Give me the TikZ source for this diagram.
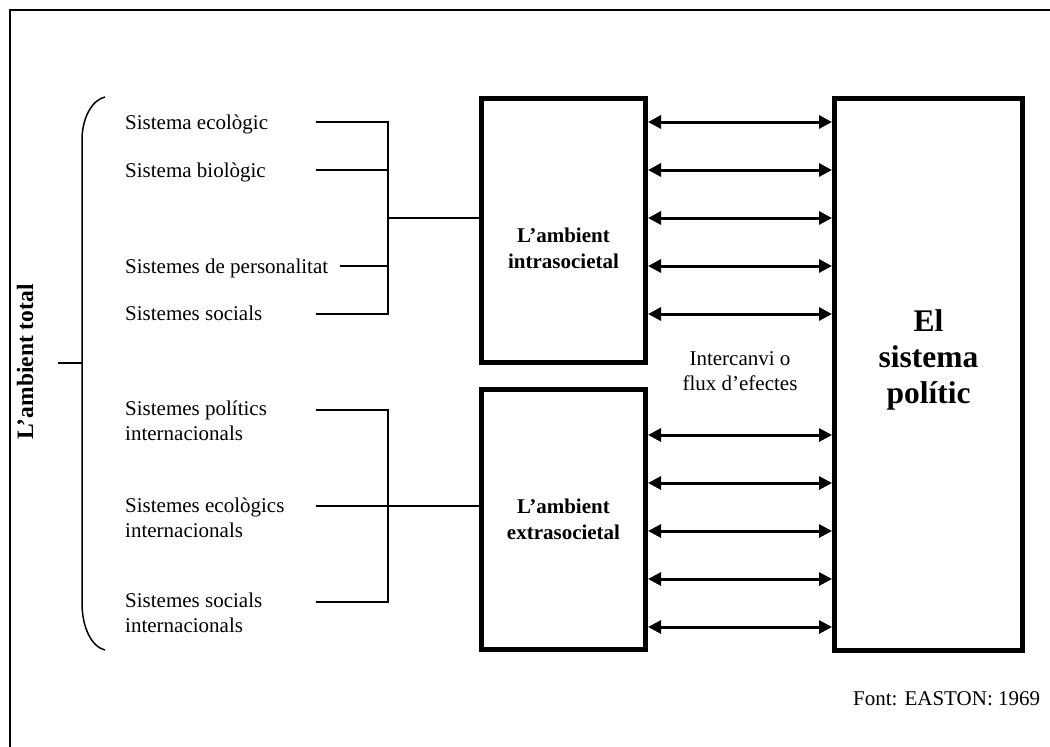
\documentclass[tikz,border=0pt]{standalone}
\usepackage{fontspec}
\setmainfont{Liberation Serif}
\usetikzlibrary{arrows.meta}
\begin{document}
\begin{tikzpicture}[x=1pt,y=-1pt,
  txt/.style={font=\fontsize{21}{25}\selectfont, inner sep=0pt, align=left, anchor=base west},
  boxlbl/.style={font=\fontsize{21}{26}\selectfont\bfseries, inner sep=0pt, align=center},
  bigbox/.style={draw, line width=5pt, inner sep=0pt},
  thinline/.style={line width=1.5pt},
  flux/.style={line width=3pt, {Triangle[length=13pt,width=13pt]}-{Triangle[length=13pt,width=13pt]}}]
\useasboundingbox (0,0) rectangle (1050,747);
% outer frame
\draw[line width=2pt] (10,760) -- (10,10) -- (1060,10);

% big boxes
\node[bigbox, minimum width=164pt, minimum height=263.5pt] (intra) at (563.5,230.25) {};
\node[bigbox, minimum width=164pt, minimum height=260pt] (extra) at (563.5,519.5) {};
\node[bigbox, minimum width=188pt, minimum height=551.5pt] (pol) at (928.5,374.25) {};

\node[boxlbl] (intraL) at (563.5,248) {L’ambient\\intrasocietal};
\node[boxlbl] (extraL) at (563.5,519.5) {L’ambient\\extrasocietal};
\node[boxlbl, font=\fontsize{31.5}{36}\selectfont\bfseries] (polL) at (928.5,360) {El\\sistema\\polític};

% exchange label
\node[txt, anchor=center, align=center] (flux) at (740,371) {Intercanvi o\\flux d’efectes};

% exchange arrows
\foreach \y in {122,170,218,266,314} {
  \draw[flux] (intra.east |- 0,\y) -- (pol.west |- 0,\y);
}
\foreach \y in {435,483,531,579,627} {
  \draw[flux] (extra.east |- 0,\y) -- (pol.west |- 0,\y);
}

% items
\node[txt] (i1) at (125,129) {Sistema ecològic};
\node[txt] (i2) at (125,177) {Sistema biològic};
\node[txt] (i3) at (125,273) {Sistemes de personalitat};
\node[txt] (i4) at (125,320) {Sistemes socials};
\node[txt] (e1) at (125,440) {Sistemes polítics\\internacionals};
\node[txt] (e2) at (125,537) {Sistemes ecològics\\internacionals};
\node[txt] (e3) at (125,632) {Sistemes socials\\internacionals};

\coordinate (j1) at (388,218);
\coordinate (j2) at (388,506);
\draw[thinline] (316,122) -| (388,314) -- (316,314);
\draw[thinline] (316,170) -- (388,170);
\draw[thinline] (340,266) -- (388,266);
\draw[thinline] (j1) -- (intra.west |- j1);
\draw[thinline] (316,410) -| (388,602) -- (316,602);
\draw[thinline] (316,506) -- (j2);
\draw[thinline] (j2) -- (extra.west |- j2);

% bracket
\coordinate (bt) at (105,97);
\coordinate (bb) at (105,650);
\coordinate (bm) at (82,363);
\draw[thinline] (bt) .. controls (92,100) and (82,118) .. (82,140) -- (82,603) .. controls (82,628) and (92,647) .. (bb);
\draw[thinline] (58,363) -- (bm);

\node[font=\fontsize{23.5}{28}\selectfont\bfseries, inner sep=0pt, anchor=base, rotate=90] (total) at (33,362) {L’ambient total};

\node[txt] (src) at (853,705) {Font: EASTON: 1969};
\end{tikzpicture}
\end{document}
